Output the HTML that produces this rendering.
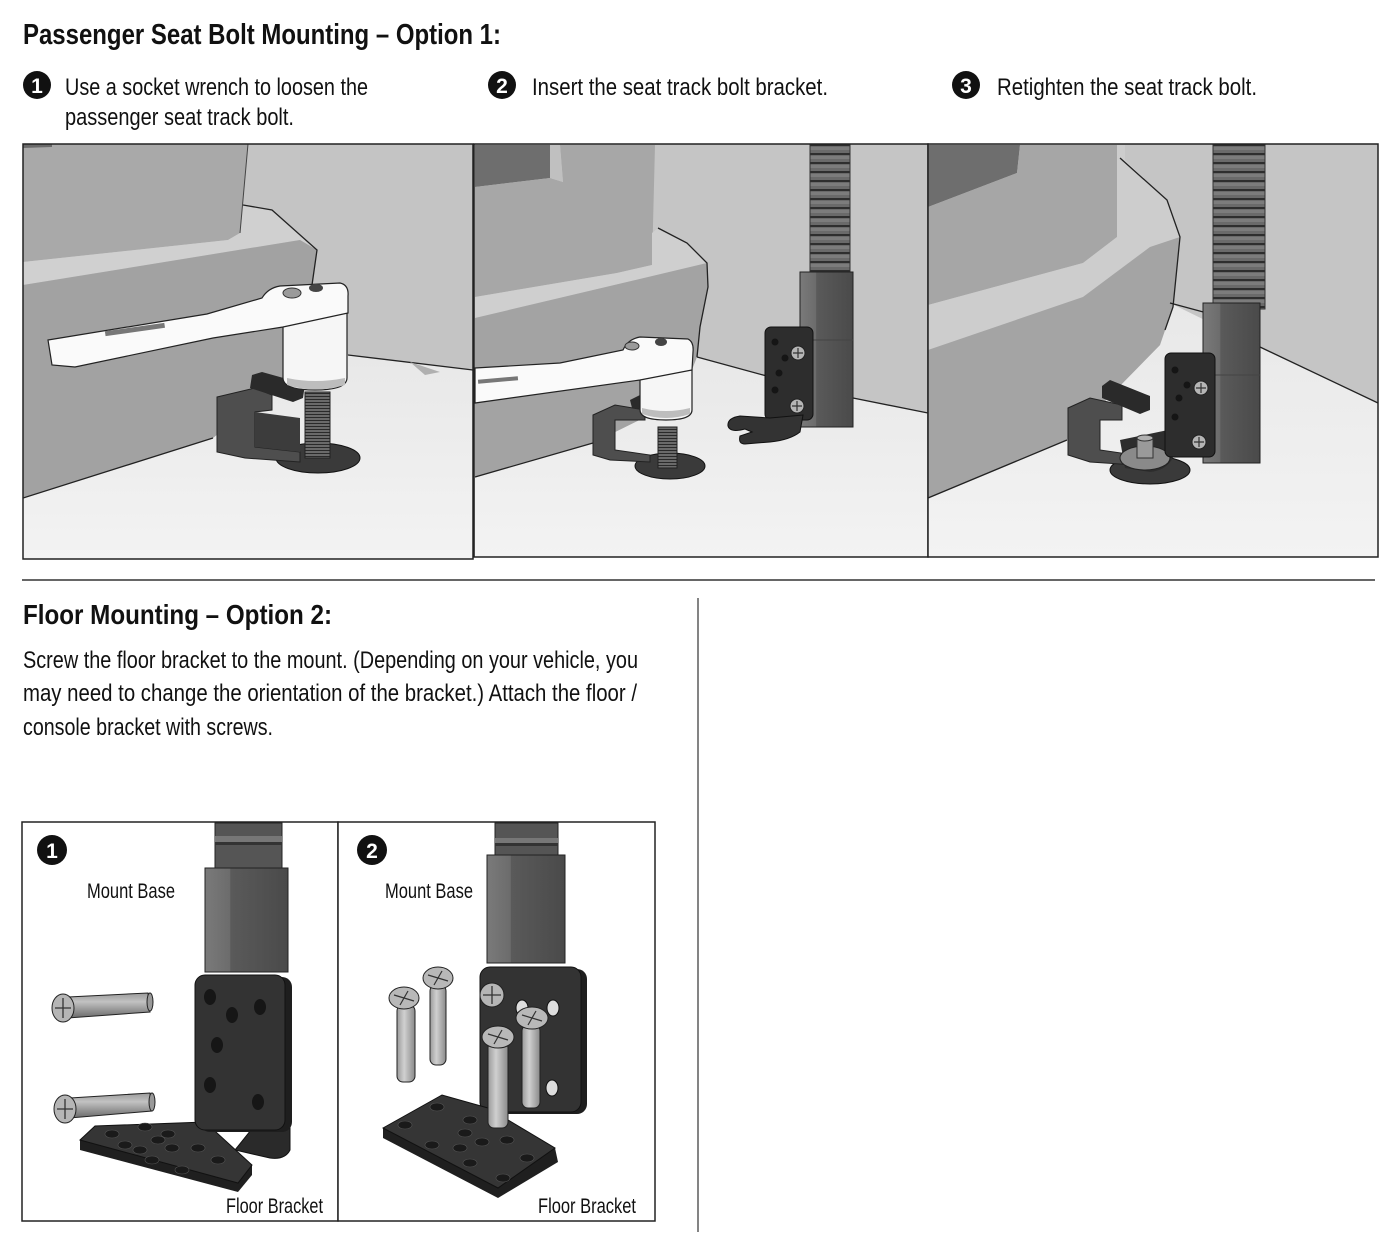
<!DOCTYPE html>
<html><head><meta charset="utf-8"><style>
html,body{margin:0;padding:0;background:#fff;}
svg{display:block;}
text{font-family:"Liberation Sans Narrow","Liberation Sans",sans-serif;fill:#111;}
</style></head><body>
<svg width="1400" height="1242" viewBox="0 0 1400 1242" xmlns="http://www.w3.org/2000/svg">
<defs>
<clipPath id="c1"><rect x="23" y="144" width="450" height="415"/></clipPath>
<clipPath id="c2"><rect x="474" y="144" width="454" height="413"/></clipPath>
<clipPath id="c3"><rect x="928" y="144" width="450" height="413"/></clipPath>
<pattern id="rings" width="40" height="9" patternUnits="userSpaceOnUse">
<rect width="40" height="9" fill="#6a6a6a"/><rect y="0" width="40" height="2" fill="#2e2e2e"/><rect y="3" width="40" height="3" fill="#7c7c7c"/>
</pattern>
<pattern id="thread" width="30" height="3" patternUnits="userSpaceOnUse">
<rect width="30" height="3" fill="#6a6a6a"/><rect width="30" height="1" fill="#2a2a2a"/>
</pattern>
<linearGradient id="floor" x1="0" y1="0" x2="0" y2="1"><stop offset="0" stop-color="#e8e8e8"/><stop offset="1" stop-color="#f3f3f3"/></linearGradient>
<linearGradient id="hex" x1="0" y1="0" x2="1" y2="0"><stop offset="0" stop-color="#7a7a7a"/><stop offset="0.3" stop-color="#6c6c6c"/><stop offset="0.31" stop-color="#5a5a5a"/><stop offset="1" stop-color="#4a4a4a"/></linearGradient>
<linearGradient id="shaftV" x1="0" y1="0" x2="1" y2="0"><stop offset="0" stop-color="#9a9a9a"/><stop offset="0.4" stop-color="#d0d0d0"/><stop offset="1" stop-color="#8a8a8a"/></linearGradient>
<linearGradient id="shaftH" x1="0" y1="0" x2="0" y2="1"><stop offset="0" stop-color="#9a9a9a"/><stop offset="0.35" stop-color="#c2c2c2"/><stop offset="1" stop-color="#6a6a6a"/></linearGradient>
</defs>

<!-- Titles and step text -->
<text x="23" y="44" font-size="29" font-weight="bold" textLength="478" lengthAdjust="spacingAndGlyphs">Passenger Seat Bolt Mounting – Option 1:</text>

<circle cx="37" cy="85" r="14" fill="#111"/>
<text x="37" y="93" font-size="21" font-weight="bold" text-anchor="middle" style="fill:#fff">1</text>
<text x="65" y="95" font-size="24" textLength="303" lengthAdjust="spacingAndGlyphs">Use a socket wrench to loosen the</text>
<text x="65" y="125" font-size="24" textLength="229" lengthAdjust="spacingAndGlyphs">passenger seat track bolt.</text>

<circle cx="502" cy="85" r="14" fill="#111"/>
<text x="502" y="93" font-size="21" font-weight="bold" text-anchor="middle" style="fill:#fff">2</text>
<text x="532" y="95" font-size="24" textLength="296" lengthAdjust="spacingAndGlyphs">Insert the seat track bolt bracket.</text>

<circle cx="966" cy="85" r="14" fill="#111"/>
<text x="966" y="93" font-size="21" font-weight="bold" text-anchor="middle" style="fill:#fff">3</text>
<text x="997" y="95" font-size="24" textLength="260" lengthAdjust="spacingAndGlyphs">Retighten the seat track bolt.</text>

<!-- PANEL 1 -->
<g clip-path="url(#c1)">
<rect x="23" y="144" width="450" height="415" fill="#c4c4c4"/>
<polygon points="23,498 213,438 283,380 348,355 473,370 473,559 23,559" fill="url(#floor)"/>
<polygon points="23,144 248,144 240,233 228,240 23,262" fill="#a9a9a9"/>
<polygon points="23,144 52,144 52,147 23,148" fill="#6a6a6a"/>
<polygon points="23,262 228,240 240,233 243,205 272,210 317,250 300,240 23,285" fill="#d0d0d0"/>
<polygon points="23,285 300,240 317,250 312,285 300,330 283,380 213,438 23,498" fill="#a2a2a2"/>
<polyline points="243,205 272,210 317,250 312,285" fill="none" stroke="#222" stroke-width="1.3"/>
<line x1="248" y1="144" x2="240" y2="233" stroke="#444" stroke-width="1"/>
<line x1="23" y1="498" x2="213" y2="438" stroke="#222" stroke-width="1.3"/>
<line x1="348" y1="355" x2="473" y2="370" stroke="#222" stroke-width="1.3"/>
<polygon points="410,362 440,372 425,375" fill="#b0b0b0"/>
<!-- plate -->
<ellipse cx="318" cy="458" rx="42" ry="15" fill="#3a3a3a" stroke="#111"/>
<!-- bracket -->
<polygon points="217,397 255,388 272,395 272,410 255,412 255,447 300,452 300,462 245,458 217,452" fill="#4e4e4e" stroke="#222"/>
<polygon points="255,412 300,418 300,452 255,447" fill="#3c3c3c"/>
<!-- bolt -->
<rect x="305" y="392" width="25" height="66" fill="url(#thread)" stroke="#222"/>
<!-- black bar -->
<polygon points="252,375 262,372 305,384 303,398 293,402 250,388" fill="#2a2a2a"/>
<!-- socket -->
<path d="M283,313 L347,313 L347,378 Q347,390 315,390 Q283,390 283,378 Z" fill="#f6f6f6" stroke="#222" stroke-width="1.2"/>
<path d="M287,378 Q315,384 345,378 L345,385 Q315,394 287,385 Z" fill="#bdbdbd"/>
<!-- wrench -->
<path d="M48,340 L207,314 L262,298 Q268,288 280,286 L340,283 Q349,285 348,296 L348,313 L283,327 L213,338 L75,367 L52,365 Z" fill="#fafafa" stroke="#222" stroke-width="1.2"/>
<rect x="105" y="327" width="60" height="5" fill="#777" transform="rotate(-8 135 330)"/>
<ellipse cx="292" cy="293" rx="9" ry="5" fill="#9a9a9a" stroke="#333"/>
<ellipse cx="316" cy="288" rx="7" ry="4" fill="#444"/>
</g>
<rect x="23" y="144" width="450" height="415" fill="none" stroke="#222" stroke-width="1.5"/>

<!-- PANEL 2 -->
<g clip-path="url(#c2)">
<rect x="474" y="144" width="454" height="413" fill="#c5c5c5"/>
<polygon points="475,477 593,443 697,357 763,375 848,397 928,413 928,557 475,557" fill="url(#floor)"/>
<polygon points="475,145 552,145 550,178 475,187" fill="#6e6e6e"/>
<polygon points="475,187 550,178 563,182 560,145 655,145 652,265 617,273 475,297" fill="#a7a7a7"/>
<polygon points="550,145 560,145 563,182 550,178" fill="#c0c0c0"/>
<polygon points="475,297 617,273 652,265 652,233 658,228 687,243 707,263 475,318" fill="#cfcfcf"/>
<polygon points="475,318 707,263 708,287 700,327 697,357 680,400 593,443 475,477" fill="#a3a3a3"/>
<polyline points="658,228 687,243 707,263 708,287 700,327 697,357" fill="none" stroke="#222" stroke-width="1.3"/>
<line x1="475" y1="477" x2="593" y2="443" stroke="#222" stroke-width="1.3"/>
<polyline points="697,357 763,375 848,397 928,413" fill="none" stroke="#222" stroke-width="1.3"/>
<!-- plate -->
<ellipse cx="670" cy="466" rx="35" ry="13" fill="#3a3a3a" stroke="#111"/>
<!-- bracket -->
<polygon points="593,415 615,405 645,410 645,420 615,420 615,450 650,455 650,462 610,460 593,455" fill="#4e4e4e" stroke="#222"/>
<rect x="658" y="427" width="19" height="41" fill="url(#thread)" stroke="#222"/>
<polygon points="630,400 640,395 660,402 655,410 632,408" fill="#2a2a2a"/>
<!-- socket -->
<path d="M640,370 L692,370 L692,410 Q692,420 666,420 Q640,420 640,410 Z" fill="#f6f6f6" stroke="#222" stroke-width="1.2"/>
<path d="M642,408 Q666,414 690,408 L690,414 Q666,422 642,414 Z" fill="#bdbdbd"/>
<!-- wrench -->
<path d="M475,368 L560,363 L623,350 Q628,339 640,337 L688,339 Q694,342 693,352 L692,370 L640,380 L475,403 Z" fill="#fafafa" stroke="#222" stroke-width="1.2"/>
<ellipse cx="632" cy="346" rx="7" ry="4" fill="#9a9a9a" stroke="#333"/>
<ellipse cx="661" cy="342" rx="6" ry="4" fill="#444"/>
<rect x="478" y="378" width="40" height="4" fill="#777" transform="rotate(-5 498 380)"/>
<!-- gooseneck -->
<rect x="810" y="144" width="40" height="130" fill="url(#rings)" stroke="#333"/>
<!-- collar -->
<rect x="800" y="272" width="53" height="155" fill="url(#hex)" stroke="#222"/>
<line x1="800" y1="340" x2="853" y2="340" stroke="#444"/>
<!-- plate bracket -->
<rect x="765" y="327" width="48" height="93" rx="6" fill="#2d2d2d" stroke="#111"/>
<circle cx="775" cy="342" r="3.5" fill="#151515"/>
<circle cx="785" cy="358" r="3.5" fill="#151515"/>
<circle cx="779" cy="373" r="3.5" fill="#151515"/>
<circle cx="775" cy="390" r="3.5" fill="#151515"/>
<circle cx="798" cy="353" r="7" fill="#b5b5b5" stroke="#222"/>
<path d="M793,353 L803,353 M798,348 L798,358" stroke="#333" stroke-width="1.2"/>
<circle cx="797" cy="406" r="7" fill="#b5b5b5" stroke="#222"/>
<path d="M792,406 L802,406 M797,401 L797,411" stroke="#333" stroke-width="1.2"/>
<!-- fork -->
<path d="M803,415 L800,432 Q790,440 770,442 L745,444 Q738,444 740,436 L752,432 L745,429 Q730,433 728,426 Q727,418 740,416 L770,418 Z" fill="#333" stroke="#111"/>
</g>
<rect x="474" y="144" width="454" height="413" fill="none" stroke="#222" stroke-width="1.5"/>

<!-- PANEL 3 -->
<g clip-path="url(#c3)">
<rect x="928" y="144" width="450" height="413" fill="#c5c5c5"/>
<polygon points="928,498 1067,440 1160,345 1170,303 1260,347 1378,403 1378,557 928,557" fill="url(#floor)"/>
<polygon points="928,145 1020,145 1017,173 928,207" fill="#6e6e6e"/>
<polygon points="928,207 1017,173 1020,145 1117,145 1117,237 1083,263 928,305" fill="#a6a6a6"/>
<polygon points="928,305 1083,263 1117,237 1117,145 1125,145 1125,160 1167,200 1180,237 1150,247 1083,297 928,350" fill="#cdcdcd"/>
<polygon points="928,350 1083,297 1150,247 1180,237 1173,307 1160,345 1067,440 928,498" fill="#a4a4a4"/>
<polyline points="1120,158 1167,200 1180,237 1173,307 1165,330" fill="none" stroke="#222" stroke-width="1.3"/>
<line x1="928" y1="498" x2="1067" y2="440" stroke="#222" stroke-width="1.3"/>
<polyline points="1170,303 1207,313" fill="none" stroke="#222" stroke-width="1.3"/>
<polyline points="1260,347 1378,403" fill="none" stroke="#222" stroke-width="1.3"/>
<!-- base plate -->
<ellipse cx="1150" cy="470" rx="40" ry="14" fill="#3a3a3a" stroke="#111"/>
<!-- bracket block -->
<polygon points="1068,408 1090,398 1122,405 1122,420 1100,420 1100,450 1135,455 1135,465 1090,462 1068,455" fill="#4e4e4e" stroke="#222"/>
<polygon points="1102,386 1110,380 1150,396 1150,410 1140,414 1102,398" fill="#2a2a2a"/>
<!-- L plate horizontal part -->
<path d="M1120,440 L1168,430 L1175,452 Q1170,470 1150,472 L1125,468 Z" fill="#2d2d2d"/>
<ellipse cx="1145" cy="458" rx="25" ry="12" fill="#8a8a8a" stroke="#222"/>
<rect x="1137" y="438" width="16" height="20" fill="#9a9a9a" stroke="#333"/>
<ellipse cx="1145" cy="438" rx="8" ry="3" fill="#b0b0b0" stroke="#333"/>
<!-- gooseneck -->
<rect x="1213" y="144" width="52" height="165" fill="url(#rings)" stroke="#333"/>
<!-- collar -->
<rect x="1203" y="303" width="57" height="160" fill="url(#hex)" stroke="#222"/>
<line x1="1203" y1="375" x2="1260" y2="375" stroke="#444"/>
<!-- plate -->
<rect x="1165" y="353" width="50" height="104" rx="6" fill="#2d2d2d" stroke="#111"/>
<circle cx="1175" cy="370" r="3.5" fill="#151515"/>
<circle cx="1187" cy="385" r="3.5" fill="#151515"/>
<circle cx="1179" cy="398" r="3.5" fill="#151515"/>
<circle cx="1175" cy="417" r="3.5" fill="#151515"/>
<circle cx="1201" cy="388" r="7" fill="#b5b5b5" stroke="#222"/>
<path d="M1196,388 L1206,388 M1201,383 L1201,393" stroke="#333" stroke-width="1.2"/>
<circle cx="1199" cy="442" r="7" fill="#b5b5b5" stroke="#222"/>
<path d="M1194,442 L1204,442 M1199,437 L1199,447" stroke="#333" stroke-width="1.2"/>
</g>
<rect x="928" y="144" width="450" height="413" fill="none" stroke="#222" stroke-width="1.5"/>

<!-- Separators -->
<line x1="22" y1="580" x2="1375" y2="580" stroke="#333" stroke-width="1.5"/>
<line x1="698" y1="598" x2="698" y2="1232" stroke="#333" stroke-width="1.2"/>

<!-- Option 2 text -->
<text x="23" y="624" font-size="28" font-weight="bold" textLength="309" lengthAdjust="spacingAndGlyphs">Floor Mounting – Option 2:</text>
<text x="23" y="668" font-size="24" textLength="615" lengthAdjust="spacingAndGlyphs">Screw the floor bracket to the mount. (Depending on your vehicle, you</text>
<text x="23" y="701" font-size="24" textLength="614" lengthAdjust="spacingAndGlyphs">may need to change the orientation of the bracket.) Attach the floor /</text>
<text x="23" y="735" font-size="24" textLength="250" lengthAdjust="spacingAndGlyphs">console bracket with screws.</text>

<!-- Bottom boxes -->
<rect x="22" y="822" width="316" height="399" fill="#fff" stroke="#222" stroke-width="1.5"/>
<rect x="338" y="822" width="317" height="399" fill="#fff" stroke="#222" stroke-width="1.5"/>

<!-- B1 -->
<circle cx="52" cy="850" r="15" fill="#111"/>
<text x="52" y="858" font-size="21" font-weight="bold" text-anchor="middle" style="fill:#fff">1</text>
<text x="87" y="898" font-size="21" textLength="88" lengthAdjust="spacingAndGlyphs">Mount Base</text>
<text x="226" y="1213" font-size="21" textLength="97" lengthAdjust="spacingAndGlyphs">Floor Bracket</text>
<!-- gooseneck -->
<rect x="215" y="823" width="67" height="46" fill="#555" stroke="#222"/>
<rect x="215" y="836" width="67" height="6" fill="#777"/>
<rect x="215" y="842" width="67" height="3" fill="#333"/>
<!-- collar -->
<rect x="205" y="868" width="83" height="104" fill="url(#hex)" stroke="#222"/>
<!-- L bracket bend -->
<path d="M255,1125 L290,1125 L290,1150 Q285,1160 270,1158 L235,1150 Z" fill="#2a2a2a" stroke="#111"/>
<!-- floor plate -->
<polygon points="80,1140 95,1126 205,1122 252,1165 252,1175 238,1192 80,1150" fill="#1f1f1f"/>
<polygon points="80,1140 95,1126 205,1122 252,1165 238,1183" fill="#353535" stroke="#111"/>
<g fill="#1a1a1a" stroke="#555" stroke-width="0.6">
<ellipse cx="112" cy="1134" rx="7" ry="4"/><ellipse cx="145" cy="1127" rx="7" ry="4"/><ellipse cx="168" cy="1134" rx="7" ry="4"/>
<ellipse cx="125" cy="1145" rx="7" ry="4"/><ellipse cx="158" cy="1140" rx="7" ry="4"/><ellipse cx="140" cy="1150" rx="7" ry="4"/>
<ellipse cx="172" cy="1148" rx="7" ry="4"/><ellipse cx="198" cy="1148" rx="7" ry="4"/><ellipse cx="152" cy="1160" rx="7" ry="4"/>
<ellipse cx="218" cy="1160" rx="7" ry="4"/><ellipse cx="182" cy="1170" rx="7" ry="4"/>
</g>
<!-- vertical plate -->
<rect x="200" y="977" width="92" height="155" rx="10" fill="#1e1e1e"/>
<rect x="195" y="975" width="90" height="155" rx="10" fill="#333" stroke="#111"/>
<g fill="#161616">
<ellipse cx="210" cy="997" rx="6" ry="8"/><ellipse cx="232" cy="1015" rx="6" ry="8"/><ellipse cx="260" cy="1007" rx="6" ry="8"/>
<ellipse cx="217" cy="1045" rx="6" ry="8"/><ellipse cx="210" cy="1085" rx="6" ry="8"/><ellipse cx="258" cy="1102" rx="6" ry="8"/>
</g>
<!-- horizontal screws -->
<polygon points="68,997 148,993 150,1012 68,1018" fill="url(#shaftH)" stroke="#222"/>
<ellipse cx="150" cy="1002" rx="3" ry="9" fill="#999" stroke="#222"/>
<ellipse cx="63" cy="1008" rx="11" ry="14" fill="#b5b5b5" stroke="#222"/>
<path d="M55,1008 L71,1008 M63,998 L63,1018" stroke="#333" stroke-width="1.3"/>
<polygon points="70,1098 150,1093 152,1111 70,1118" fill="url(#shaftH)" stroke="#222"/>
<ellipse cx="152" cy="1102" rx="3" ry="9" fill="#999" stroke="#222"/>
<ellipse cx="65" cy="1109" rx="11" ry="14" fill="#b5b5b5" stroke="#222"/>
<path d="M57,1109 L73,1109 M65,1099 L65,1119" stroke="#333" stroke-width="1.3"/>

<!-- B2 -->
<circle cx="372" cy="850" r="15" fill="#111"/>
<text x="372" y="858" font-size="21" font-weight="bold" text-anchor="middle" style="fill:#fff">2</text>
<text x="385" y="898" font-size="21" textLength="88" lengthAdjust="spacingAndGlyphs">Mount Base</text>
<text x="538" y="1213" font-size="21" textLength="98" lengthAdjust="spacingAndGlyphs">Floor Bracket</text>
<rect x="495" y="823" width="63" height="33" fill="#555" stroke="#222"/>
<rect x="495" y="838" width="63" height="5" fill="#777"/>
<rect x="495" y="843" width="63" height="3" fill="#333"/>
<rect x="487" y="855" width="78" height="108" fill="url(#hex)" stroke="#222"/>
<!-- vertical plate -->
<rect x="484" y="969" width="103" height="145" rx="10" fill="#1e1e1e"/>
<rect x="480" y="967" width="101" height="145" rx="10" fill="#333" stroke="#111"/>
<ellipse cx="522" cy="1008" rx="6" ry="8" fill="#ddd" stroke="#111"/>
<ellipse cx="553" cy="1008" rx="6" ry="8" fill="#ddd" stroke="#111"/>
<ellipse cx="552" cy="1088" rx="6" ry="8" fill="#ddd" stroke="#111"/>
<circle cx="492" cy="995" r="12" fill="#b5b5b5" stroke="#222"/>
<path d="M483,995 L501,995 M492,986 L492,1004" stroke="#333" stroke-width="1.3"/>
<!-- floor plate -->
<polygon points="383,1128 442,1095 488,1108 555,1148 558,1162 498,1198 383,1138" fill="#1f1f1f"/>
<polygon points="383,1128 442,1095 488,1108 555,1148 498,1188" fill="#353535" stroke="#111"/>
<g fill="#1a1a1a" stroke="#555" stroke-width="0.6">
<ellipse cx="437" cy="1107" rx="7" ry="4"/><ellipse cx="405" cy="1125" rx="7" ry="4"/><ellipse cx="470" cy="1120" rx="7" ry="4"/>
<ellipse cx="465" cy="1133" rx="7" ry="4"/><ellipse cx="432" cy="1145" rx="7" ry="4"/><ellipse cx="460" cy="1148" rx="7" ry="4"/>
<ellipse cx="482" cy="1142" rx="7" ry="4"/><ellipse cx="507" cy="1140" rx="7" ry="4"/><ellipse cx="470" cy="1163" rx="7" ry="4"/>
<ellipse cx="527" cy="1158" rx="7" ry="4"/><ellipse cx="503" cy="1178" rx="7" ry="4"/>
</g>
<!-- vertical screws -->
<rect x="397" y="1005" width="18" height="77" rx="6" fill="url(#shaftV)" stroke="#222"/>
<ellipse cx="404" cy="998" rx="15" ry="11" fill="#b8b8b8" stroke="#222"/>
<path d="M394,995 L414,1001 M408,991 L400,1005" stroke="#333" stroke-width="1.2"/>
<rect x="430" y="985" width="16" height="80" rx="6" fill="url(#shaftV)" stroke="#222"/>
<ellipse cx="438" cy="978" rx="15" ry="11" fill="#b8b8b8" stroke="#222"/>
<path d="M428,975 L448,981 M442,971 L434,985" stroke="#333" stroke-width="1.2"/>
<rect x="488" y="1042" width="20" height="86" rx="6" fill="url(#shaftV)" stroke="#222"/>
<ellipse cx="498" cy="1037" rx="16" ry="11" fill="#b8b8b8" stroke="#222"/>
<path d="M488,1034 L508,1040 M502,1030 L494,1044" stroke="#333" stroke-width="1.2"/>
<rect x="522" y="1025" width="18" height="83" rx="6" fill="url(#shaftV)" stroke="#222"/>
<ellipse cx="532" cy="1018" rx="16" ry="11" fill="#b8b8b8" stroke="#222"/>
<path d="M522,1015 L542,1021 M536,1011 L528,1025" stroke="#333" stroke-width="1.2"/>
</svg>
</body></html>
